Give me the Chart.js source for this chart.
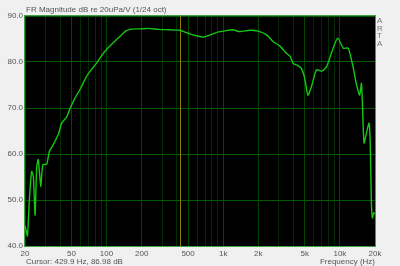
<!DOCTYPE html>
<html>
<head>
<meta charset="utf-8">
<script src="https://cdn.jsdelivr.net/npm/chart.js@4"></script>
<style>
  html, body { margin: 0; padding: 0; background: #f0f0f0; }
  canvas { display: block; }
</style>
</head>
<body>
<canvas id="frChart" width="400" height="266"></canvas>
<script>
const freqHz = [20, 20.4, 21.0, 21.8, 22.8, 23.6, 24.4, 25.2, 26.0, 27.3, 28.4, 30.7, 32.3, 34.9, 38.9, 41.2,
  45.7, 48.9, 53.5, 60, 67.2, 75, 84, 92, 102, 114, 126, 138, 148, 160, 175, 193, 228, 280, 350, 426,
  470, 517, 590, 670, 760, 870, 1000, 1205, 1390, 1685, 1985, 2355, 2685, 3050, 3480, 3750, 3970, 4300,
  4670, 4990, 5320, 5700, 6300, 6980, 7700, 8530, 9560, 10700, 11800, 13050, 13900, 14800, 15300, 15600,
  16100, 16900, 17800, 18200, 18600, 19000, 19500, 20000];
const magDb = [44.5, 43.5, 42.2, 50, 56.2, 55, 46.7, 57.2, 58.8, 53, 57.6, 57.8, 60.5, 62, 64.5, 66.7,
  68.1, 70, 72.1, 74.3, 76.8, 78.5, 80.1, 81.6, 83, 84.2, 85.2, 86.2, 86.8, 87.1, 87.2, 87.2, 87.3, 87.1, 87.0, 86.9,
  86.5, 86.1, 85.7, 85.4, 85.8, 86.4, 86.7, 87, 86.6, 86.9, 86.7, 85.9, 84.4, 83.5, 81.9, 81.2, 79.7, 79.3,
  78.6, 76.5, 72.8, 74.6, 78.3, 78, 79, 82.2, 85.2, 83, 83, 78.6, 75, 72.8, 75.4, 71,
  62.4, 64.6, 66.7, 62.4, 50, 46.1, 47.2, 47];

const xTicks = [20, 30, 40, 50, 60, 70, 80, 90, 100, 200, 300, 400, 500, 600, 700, 800, 900,
  1000, 2000, 3000, 4000, 5000, 6000, 7000, 8000, 9000, 10000, 20000];
const xLabels = { 20: "20", 50: "50", 100: "100", 200: "200", 500: "500", 1000: "1k", 2000: "2k", 5000: "5k", 10000: "10k", 20000: "20k" };
const yTicks = [40, 50, 60, 70, 80, 90];

const cursorHz = 429.9;
const cursorDb = 86.98;

const font = "Liberation Sans, Arial, sans-serif";

const artaDecor = {
  id: "artaDecor",
  beforeDraw(chart) {
    const { ctx, chartArea: a } = chart;
    ctx.save();
    ctx.fillStyle = "#000000";
    ctx.fillRect(a.left, a.top, a.right - a.left, a.bottom - a.top);
    ctx.restore();
  },
  beforeDatasetsDraw(chart) {
    const { ctx, chartArea: a, scales } = chart;
    const cx = Math.round(scales.x.getPixelForValue(cursorHz)) + 0.5;
    ctx.save();
    ctx.strokeStyle = "#8a8000";
    ctx.lineWidth = 1;
    ctx.beginPath();
    ctx.moveTo(cx, a.top);
    ctx.lineTo(cx, a.bottom);
    ctx.stroke();
    ctx.restore();
  },
  afterDraw(chart) {
    const { ctx, chartArea: a } = chart;
    ctx.save();
    ctx.strokeStyle = "#3fa03f";
    ctx.lineWidth = 1;
    ctx.strokeRect(a.left - 0.5, a.top - 0.5, a.right - a.left + 1, a.bottom - a.top + 1);
    ctx.fillStyle = "#555555";
    ctx.font = "8px " + font;
    ctx.textBaseline = "middle";
    ctx.textAlign = "left";
    ctx.fillText("FR Magnitude dB re 20uPa/V (1/24 oct)", a.left + 1, 10);
    ctx.fillText("Cursor: " + cursorHz.toFixed(1) + " Hz, " + cursorDb.toFixed(2) + " dB", a.left + 1, 262);
    ctx.textAlign = "right";
    ctx.fillText("Frequency (Hz)", a.right, 262);
    ctx.textAlign = "left";
    ctx.fillStyle = "#777777";
    ["A", "R", "T", "A"].forEach((ch, i) => ctx.fillText(ch, a.right + 2, a.top + 5 + i * 7.5));
    ctx.restore();
  }
};

new Chart(document.getElementById("frChart"), {
  type: "line",
  data: {
    datasets: [
      {
        label: "FR Magnitude",
        data: freqHz.map((f, i) => ({ x: f, y: magDb[i] })),
        borderColor: "#14c814",
        borderWidth: 1.4,
        pointRadius: 0,
        tension: 0.2,
        fill: false
      }
    ]
  },
  options: {
    responsive: false,
    animation: false,
    layout: {
      padding: { left: 0, top: 16, right: 25, bottom: 0 }
    },
    plugins: {
      legend: { display: false },
      tooltip: { enabled: false }
    },
    scales: {
      x: {
        type: "logarithmic",
        min: 20,
        max: 20000,
        afterBuildTicks: (scale) => { scale.ticks = xTicks.map((v) => ({ value: v })); },
        afterFit: (scale) => { scale.height = 20; },
        border: { display: false },
        grid: {
          drawTicks: false,
          color: (c) => (xLabels[c.tick.value] ? "#004800" : "#002c00"),
          lineWidth: 1
        },
        ticks: {
          autoSkip: false,
          maxRotation: 0,
          padding: 3,
          color: "#555555",
          font: { size: 8, family: font },
          callback: (v) => xLabels[v] || ""
        }
      },
      y: {
        min: 40,
        max: 90,
        afterBuildTicks: (scale) => { scale.ticks = yTicks.map((v) => ({ value: v })); },
        afterFit: (scale) => { scale.width = 25; },
        border: { display: false },
        grid: {
          drawTicks: false,
          color: "#005a00",
          lineWidth: 1
        },
        ticks: {
          padding: 2,
          color: "#555555",
          font: { size: 8, family: font },
          callback: (v) => Number(v).toFixed(1)
        }
      }
    }
  },
  plugins: [artaDecor]
});
</script>
</body>
</html>
